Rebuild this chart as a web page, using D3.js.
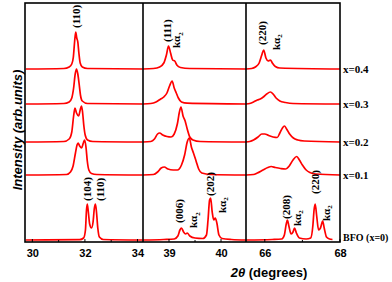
<!DOCTYPE html>
<html>
<head>
<meta charset="utf-8">
<script src="https://cdn.jsdelivr.net/npm/d3@7"></script>
<style>
  body { margin: 0; background: #fff; }
  svg { display: block; }
</style>
</head>
<body>
<svg id="chart" width="392" height="282"></svg>
<script>
// series names and their vertical offsets (stacked plot)
var series = ["x=0.4", "x=0.3", "x=0.2", "x=0.1", "BFO (x=0)"];
var offsets = [173, 138, 100, 67, 2];

// panel x-domains (2 theta, degrees) and tick labels
var domain1 = [29.72, 34.21], ticks1 = [30, 32, 34], minor1 = [31, 33];
var domain2 = [38.5, 40.48], ticks2 = [39, 40], minor2 = [39.5];
var domain3 = [65.5, 68.0], ticks3 = [66, 68], minor3 = [67];

// ---- panel 1 : 30-34 deg ----
var p1_x04 = [[29.75,0],[31.2,0.5],[31.4,2],[31.5,5],[31.56,12],[31.61,28],[31.65,37],[31.69,31],[31.73,27],[31.77,16],[31.82,6],[31.9,2],[32.1,0.5],[34.2,0]];
var p1_x03 = [[29.75,0],[31.2,0.5],[31.4,2],[31.5,6],[31.57,16],[31.63,30],[31.68,35],[31.73,30],[31.78,20],[31.83,9],[31.9,3],[32.1,0.5],[34.2,0]];
var p1_x02 = [[29.75,0],[31.2,0.5],[31.4,3],[31.5,10],[31.57,26],[31.62,34],[31.68,29],[31.76,26],[31.82,32],[31.87,36],[31.91,30],[31.96,16],[32.01,7],[32.1,2],[32.3,0.5],[34.2,0]];
var p1_x01 = [[29.75,0],[31.3,0.5],[31.45,3],[31.55,9],[31.64,22],[31.7,30],[31.74,32],[31.8,29],[31.87,27],[31.94,32],[31.99,35],[32.04,28],[32.09,14],[32.15,5],[32.25,1.5],[32.45,0.5],[34.2,0]];
var p1_bfo = [[29.75,0],[31.8,0.3],[31.95,2],[32.02,10],[32.06,30],[32.09,36],[32.13,28],[32.18,16],[32.25,12],[32.31,18],[32.36,32],[32.4,36],[32.44,28],[32.49,12],[32.55,3],[32.7,0.5],[34.2,0]];

// ---- panel 2 : 38.5-40.5 deg ----
var p2_x04 = [[38.5,0],[38.7,0.5],[38.82,2],[38.9,6],[38.95,14],[38.99,23],[39.03,16],[39.07,9],[39.11,8],[39.15,4],[39.22,1.5],[39.4,0.5],[40.48,0]];
var p2_x03 = [[38.5,0],[38.65,0.5],[38.75,2],[38.84,5],[38.9,7],[38.96,11],[39.01,18],[39.06,23],[39.1,16],[39.14,11],[39.18,6],[39.24,2],[39.35,0.8],[40.48,0]];
var p2_x02 = [[38.5,0],[38.65,0.5],[38.72,3],[38.78,8],[38.82,9],[38.88,7],[38.96,5.5],[39.04,5],[39.1,8],[39.16,18],[39.2,30],[39.23,35],[39.27,26],[39.31,21],[39.35,13],[39.4,5],[39.46,2],[39.6,0.5],[40.48,0]];
var p2_x01 = [[38.5,0],[38.7,0.5],[38.78,3],[38.85,7],[38.91,8],[38.98,6],[39.08,5],[39.16,5],[39.24,10],[39.3,20],[39.35,33],[39.39,37],[39.43,28],[39.47,22],[39.52,14],[39.57,6],[39.63,2],[39.8,0.5],[40.48,0]];
var p2_bfo = [[38.5,0],[38.9,0.5],[39.1,1],[39.17,4],[39.21,10],[39.24,12],[39.28,8],[39.32,6],[39.35,7],[39.4,4],[39.5,2],[39.65,1.5],[39.72,5],[39.75,20],[39.78,40],[39.8,42],[39.83,28],[39.86,20],[39.89,22],[39.92,17],[39.96,5],[40.02,1.5],[40.2,0.5],[40.48,0]];

// ---- panel 3 : 65.5-68 deg ----
var p3_x04 = [[65.5,0],[65.65,0.5],[65.75,2],[65.85,6],[65.92,14],[65.97,19],[66.03,11],[66.09,8],[66.15,9],[66.2,6],[66.28,2.5],[66.4,1],[68,0]];
var p3_x03 = [[65.5,0],[65.6,0.5],[65.7,2],[65.8,4],[65.88,5],[65.96,7],[66.05,10],[66.15,12],[66.22,10],[66.3,6],[66.4,3],[66.55,1.5],[66.75,0.5],[68,0]];
var p3_x02 = [[65.5,0],[65.6,0.5],[65.7,2],[65.82,5],[65.92,8],[66.0,8],[66.1,6.5],[66.22,5],[66.33,4.5],[66.4,9],[66.47,14],[66.52,16],[66.58,13],[66.66,8],[66.76,4],[66.88,2],[67.05,1],[68,0]];
var p3_x01 = [[65.5,0],[65.7,0.5],[65.8,2],[65.95,5],[66.08,7.5],[66.17,8.5],[66.28,7.5],[66.42,6.5],[66.55,6],[66.65,9],[66.75,15],[66.85,18.5],[66.92,15],[67.0,10],[67.1,5],[67.2,2.5],[67.35,1],[68,0]];
var p3_bfo = [[65.5,0],[66.2,0.5],[66.45,1],[66.52,5],[66.57,16],[66.6,20],[66.64,14],[66.7,6],[66.75,8],[66.79,12],[66.84,7],[66.92,2],[67.1,1],[67.22,2],[67.28,15],[67.31,30],[67.34,36],[67.38,24],[67.43,10],[67.48,12],[67.54,19],[67.58,12],[67.64,3],[67.72,1],[67.8,0.5]];

// peak labels: [panel, 2theta, bottom intensity (abs), text]
var peakLabels = [
  [0, 31.66, 214, "(110)"],
  [0, 32.09, 41, "(104)"],
  [0, 32.58, 41, "(110)"],
  [1, 38.97, 200, "(111)"],
  [1, 39.14, 194, "kα2"],
  [1, 39.2, 19, "(006)"],
  [1, 39.47, 14, "kα2"],
  [1, 39.79, 46, "(202)"],
  [1, 40.02, 29, "kα2"],
  [2, 65.94, 197, "(220)"],
  [2, 66.3, 192, "kα2"],
  [2, 66.58, 23, "(208)"],
  [2, 66.85, 16, "kα2"],
  [2, 67.35, 48, "(220)"],
  [2, 67.62, 21, "kα2"]
];

var panels = [
  { range: [25, 143], domain: domain1, ticks: ticks1, minor: minor1, curves: [p1_x04, p1_x03, p1_x02, p1_x01, p1_bfo] },
  { range: [143, 246], domain: domain2, ticks: ticks2, minor: minor2, curves: [p2_x04, p2_x03, p2_x02, p2_x01, p2_bfo] },
  { range: [246, 340], domain: domain3, ticks: ticks3, minor: minor3, curves: [p3_x04, p3_x03, p3_x02, p3_x01, p3_bfo] }
];

var svg = d3.select("#chart");
var plotTop = 3, plotBottom = 242;

var y = d3.scaleLinear().domain([0, 240]).range([plotBottom, plotBottom - 240]);

panels.forEach(function (p, pi) {
  var x = d3.scaleLinear().domain(p.domain).range(p.range);
  p.x = x;

  var line = d3.line()
    .x(function (d) { return x(d[0]); })
    .y(function (d) { return d[1]; })
    .curve(d3.curveMonotoneX);

  p.curves.forEach(function (c, si) {
    var pts = c.map(function (d) { return [d[0], y(d[1] + offsets[si])]; });
    svg.append("path")
      .attr("d", line(pts))
      .attr("fill", "none")
      .attr("stroke", "#ff0000")
      .attr("stroke-width", 1.7)
      .attr("stroke-linejoin", "round");
  });

  // bottom axis
  var axis = d3.axisBottom(x).tickValues(p.ticks).tickSize(0).tickPadding(7)
    .tickFormat(d3.format("d"));
  var g = svg.append("g").attr("transform", "translate(0," + plotBottom + ")").call(axis);
  g.select(".domain").remove();
  g.selectAll("text")
    .attr("font-family", "Liberation Sans, Arial, sans-serif")
    .attr("font-weight", "bold")
    .attr("font-size", 11)
    .attr("fill", "#000");

  // small inward ticks
  svg.selectAll(null).data(p.ticks.concat(p.minor)).enter().append("line")
    .attr("x1", function (d) { return x(d); }).attr("x2", function (d) { return x(d); })
    .attr("y1", plotBottom).attr("y2", function (d) { return p.ticks.indexOf(d) >= 0 ? plotBottom - 3 : plotBottom - 2; })
    .attr("stroke", "#000").attr("stroke-width", 1);
});

// frame and panel dividers
svg.append("rect")
  .attr("x", 25).attr("y", plotTop).attr("width", 315).attr("height", plotBottom - plotTop)
  .attr("fill", "none").attr("stroke", "#000").attr("stroke-width", 1.6);
[143, 246].forEach(function (xx) {
  svg.append("line").attr("x1", xx).attr("x2", xx).attr("y1", plotTop).attr("y2", plotBottom)
    .attr("stroke", "#000").attr("stroke-width", 1.6);
});

// peak labels, rotated
peakLabels.forEach(function (l) {
  var px = panels[l[0]].x(l[1]);
  var py = y(l[2]);
  var t = svg.append("text")
    .attr("transform", "translate(" + px + "," + py + ") rotate(-90)")
    .attr("dy", "0.35em")
    .attr("font-family", "Liberation Serif, Times New Roman, serif")
    .attr("font-weight", "bold")
    .attr("font-size", 11)
    .attr("fill", "#000");
  if (l[3] === "kα2") {
    t.append("tspan").text("kα");
    t.append("tspan").attr("font-size", 7).attr("dy", "0.35em").text("2");
  } else {
    t.text(l[3]);
  }
});

// series labels on the right
series.forEach(function (s, i) {
  svg.append("text")
    .attr("x", 343)
    .attr("y", y(offsets[i]))
    .attr("dy", i === 4 ? "0.1em" : "0.35em")
    .attr("font-family", "Liberation Serif, Times New Roman, serif")
    .attr("font-weight", "bold")
    .attr("font-size", i === 4 ? 10 : 11)
    .attr("fill", "#000")
    .text(s);
});

// axis titles
var xt = svg.append("text")
  .attr("x", 269).attr("y", 277)
  .attr("text-anchor", "middle")
  .attr("font-family", "Liberation Sans, Arial, sans-serif")
  .attr("font-weight", "bold")
  .attr("font-size", 13)
  .attr("fill", "#000");
xt.append("tspan").attr("font-style", "italic").text("2θ");
xt.append("tspan").text(" (degrees)");

svg.append("text")
  .attr("transform", "translate(17,130) rotate(-90)")
  .attr("text-anchor", "middle")
  .attr("dy", "0.35em")
  .attr("font-family", "Liberation Sans, Arial, sans-serif")
  .attr("font-weight", "bold")
  .attr("font-style", "italic")
  .attr("font-size", 13)
  .attr("fill", "#000")
  .text("Intensity (arb.units)");
</script>
</body>
</html>
